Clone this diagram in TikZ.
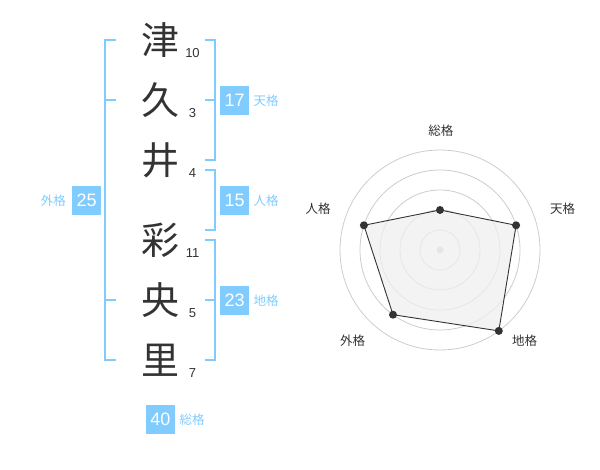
\documentclass[tikz,border=0pt]{standalone}
\usepackage{fontspec}
\setmainfont{Liberation Sans}
\newfontfamily\jpfont{Noto Sans CJK JP}
\definecolor{sky}{HTML}{80CCFF}
\definecolor{ink}{HTML}{333333}
\definecolor{ring}{HTML}{CCCCCC}
\definecolor{area}{HTML}{EFEFEF}
\begin{document}
\begin{tikzpicture}[x=1pt,y=-1pt,
  kanji/.style={font=\jpfont\fontsize{38}{38}\selectfont, text=ink, inner sep=0pt},
  strokes/.style={font=\fontsize{13}{13}\selectfont, text=ink, inner sep=0pt},
  numbox/.style={fill=sky, text=white, minimum width=29pt, minimum height=29pt, inner sep=0pt, font=\fontsize{18}{18}\selectfont},
  kaku/.style={font=\jpfont\fontsize{12.5}{12.5}\selectfont, text=sky, inner sep=0pt},
  axislabel/.style={font=\jpfont\fontsize{12.5}{12.5}\selectfont, text=ink, inner sep=0pt},
  brk/.style={draw=sky, line width=2pt},
  ringline/.style={draw=ring, line width=0.8pt},
  dot/.style={fill=ink}]
\useasboundingbox (0,0) rectangle (600,470);
% name characters
\node[kanji] (c1) at (160,40) {津};
\node[kanji] (c2) at (160,100) {久};
\node[kanji] (c3) at (160,160) {井};
\node[kanji] (c4) at (160,240) {彩};
\node[kanji] (c5) at (160,300) {央};
\node[kanji] (c6) at (160,360) {里};
% stroke counts
\node[strokes] (s1) at (192.5,53) {10};
\node[strokes] (s2) at (192.5,113) {3};
\node[strokes] (s3) at (192.5,173) {4};
\node[strokes] (s4) at (192.5,253) {11};
\node[strokes] (s5) at (192.5,313) {5};
\node[strokes] (s6) at (192.5,373) {7};
% brackets
\draw[brk] (116,40) -- (105,40) -- (105,360) -- (116,360);
\draw[brk] (105,100) -- (116,100);
\draw[brk] (105,300) -- (116,300);
\draw[brk] (205,40) -- (214.5,40) -- (214.5,160) -- (205,160);
\draw[brk] (205,100) -- (214.5,100);
\draw[brk] (205,170) -- (214.5,170) -- (214.5,230) -- (205,230);
\draw[brk] (205,240) -- (214.5,240) -- (214.5,360) -- (205,360);
\draw[brk] (205,300) -- (214.5,300);
% boxes and labels
\node[numbox] (gai) at (86.7,200.5) {25};
\node[kaku] (gail) at (53.3,200.5) {外格};
\node[numbox] (ten) at (234.7,100.5) {17};
\node[kaku] (tenl) at (266,100.5) {天格};
\node[numbox] (jin) at (234.7,200.5) {15};
\node[kaku] (jinl) at (266,200.5) {人格};
\node[numbox] (chi) at (234.7,300.5) {23};
\node[kaku] (chil) at (266,300.5) {地格};
\node[numbox] (sou) at (160.5,419) {40};
\node[kaku] (soul) at (192,419.5) {総格};
% radar chart
\coordinate (ctr) at (440,250);
\foreach \r in {20,40,60,80,100} \draw[ringline] (ctr) circle[radius=\r];
\fill[ring] (ctr) circle[radius=3.5];
\coordinate (p1) at (440,210);
\coordinate (p2) at (516.1,225.3);
\coordinate (p3) at (498.8,330.9);
\coordinate (p4) at (393.0,314.7);
\coordinate (p5) at (363.9,225.3);
\draw[draw=ink, fill=area, fill opacity=0.75, line width=0.9pt] (p1) -- (p2) -- (p3) -- (p4) -- (p5) -- cycle;
\foreach \p in {p1,p2,p3,p4,p5} \fill[dot] (\p) circle[radius=4];
\node[axislabel] (a1) at (440.8,130.8) {総格};
\node[axislabel] (a2) at (562.5,208.7) {天格};
\node[axislabel] (a3) at (524.7,341) {地格};
\node[axislabel] (a4) at (352.5,341) {外格};
\node[axislabel] (a5) at (318,208.7) {人格};
\end{tikzpicture}
\end{document}
